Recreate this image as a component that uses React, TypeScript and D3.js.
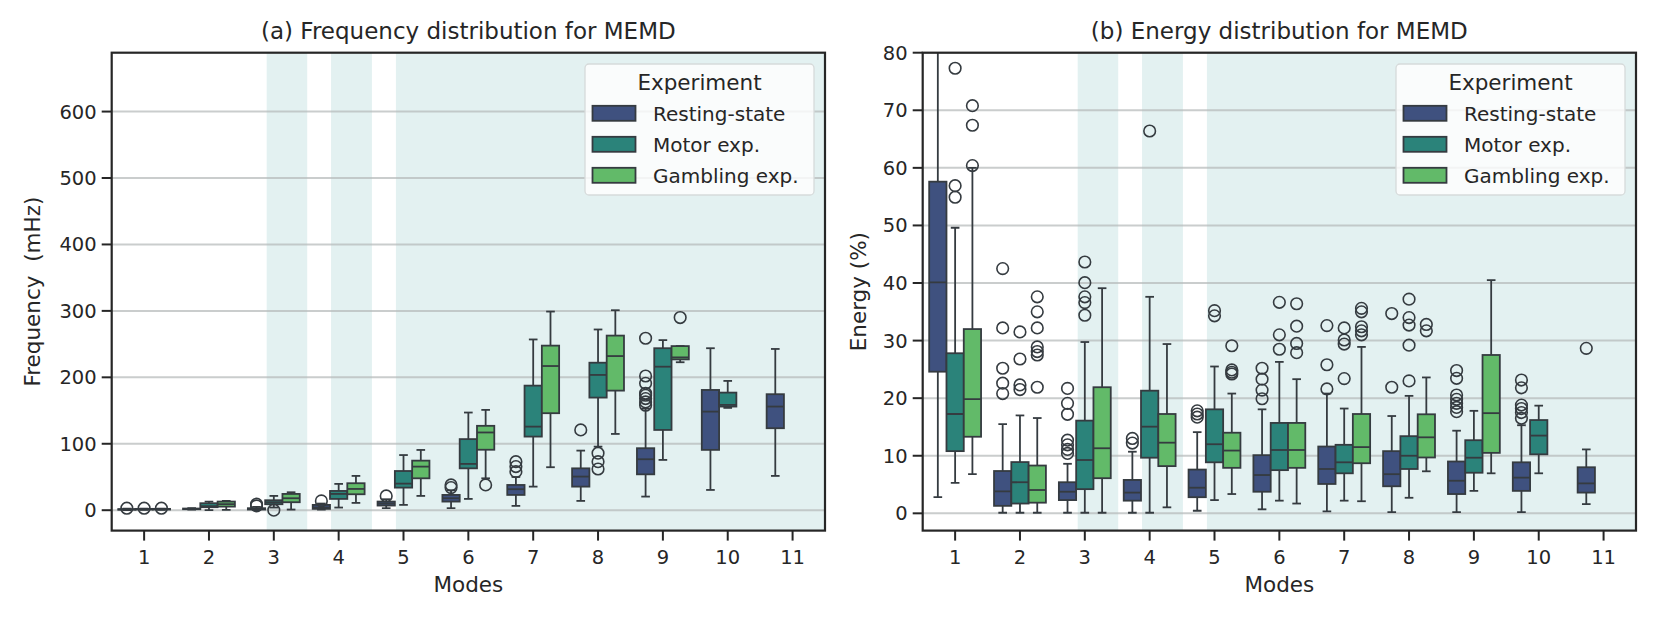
import { useEffect, useRef } from "react";
import * as d3 from "d3";

// box stats per mode: [whiskerLo, q1, median, q3, whiskerHi, outliers]
type Box = [number, number, number, number, number, number[]] | null;

const MODES = [1, 2, 3, 4, 5, 6, 7, 8, 9, 10, 11];
const EXPERIMENTS = ["Resting-state", "Motor exp.", "Gambling exp."];
const COLORS = ["#3f517f", "#2b837a", "#62ba69"];

const freqResting: Box[] = [
  [0.3, 0.8, 1.2, 1.6, 2.2, [3]],
  [1, 1.5, 2, 2.5, 3, []],
  [0.3, 1, 2, 3, 5, [6.5, 9]],
  [1, 2, 4, 8, 10, [14]],
  [3, 7, 10, 13, 16.5, [21.5]],
  [3, 13, 18, 23, 30, [34, 38]],
  [6.5, 23, 31.6, 38, 50, [58, 65.7, 73]],
  [14, 35.5, 50.6, 63, 89.7, [120.8]],
  [20.5, 54, 76.7, 93.3, 153, [158, 163, 168, 173, 176, 191, 202, 258.8]],
  [30.5, 90.8, 148.4, 181, 243.8, []],
  [51.6, 123.4, 156, 174.6, 242.7, []],
];
const freqMotor: Box[] = [
  [0.5, 1, 1.5, 2, 2.5, [3]],
  [0, 4.5, 6, 10.5, 13, []],
  [4, 9, 12, 15, 21.5, [0]],
  [4, 17, 24.5, 29, 39.6, []],
  [8, 34, 40, 59, 83, []],
  [17, 63, 69.7, 107, 147, []],
  [35.5, 110.8, 125.8, 187.5, 257, []],
  [95.7, 169.5, 203.6, 222, 272, [62, 73, 85.8]],
  [75.7, 120.8, 216, 243.8, 256, []],
  [154, 156, 158.5, 177, 194.6, []],
  null,
];
const freqGambling: Box[] = [
  [0.5, 1, 1.5, 2, 2.5, [3]],
  [0.5, 5.4, 9, 13, 14, []],
  [1, 12, 18, 24.5, 27, []],
  [11, 24, 32, 40.6, 51.6, []],
  [21.5, 48, 65.6, 74.6, 90.7, []],
  [48, 91, 117, 127, 151, [38]],
  [64.7, 146, 217, 247.7, 299, []],
  [114.8, 180, 232, 262.8, 301, []],
  [222.7, 227, 230, 247, 247, [290]],
  null,
  null,
];

const energyResting: Box[] = [
  [2.8, 24.6, 40.1, 57.6, 97, []],
  [0.1, 1.3, 3.8, 7.35, 15.5, [20.8, 22.6, 25.2, 32.2, 42.5]],
  [0.1, 2.3, 3.75, 5.4, 8.6, [10.4, 11.1, 11.9, 12.7, 17.2, 19.1, 21.7]],
  [0.1, 2.2, 3.6, 5.8, 10.7, [12.2, 13]],
  [0.45, 2.8, 4.45, 7.6, 14.1, [16.7, 17.25, 17.8]],
  [0.7, 3.75, 6.65, 10.1, 18.06, [19.9, 21.4, 23.3, 25.2]],
  [0.35, 5.1, 7.7, 11.6, 20.8, [21.6, 25.8, 32.6]],
  [0.2, 4.7, 6.8, 10.8, 16.9, [21.9, 34.7]],
  [0.2, 3.35, 5.66, 9, 14.35, [17.65, 18.4, 19.1, 19.8, 20.55, 23.45, 24.8]],
  [0.2, 3.9, 6.2, 8.86, 15.3, [16.5, 17.5, 18.2, 18.8, 21.8, 23.15]],
  [1.6, 3.6, 5.2, 8.0, 11.1, [28.65]],
];
const energyMotor: Box[] = [
  [5.3, 10.8, 17.25, 27.8, 49.6, [54.9, 56.9, 77.3]],
  [0.1, 1.7, 5.4, 8.9, 17, [21.5, 22.3, 26.8, 31.5]],
  [0.1, 4.2, 9.26, 16.1, 29.75, [34.4, 36.6, 37.6, 40.06, 43.65]],
  [0.1, 9.66, 15.05, 21.3, 37.6, [66.4]],
  [2.3, 8.86, 12, 18.06, 25.5, [34.3, 35.2]],
  [2.2, 7.5, 11, 15.7, 26.3, [28.5, 31, 36.65]],
  [2.2, 6.95, 8.86, 11.9, 18.2, [23.4, 29.4, 30.1, 32.2]],
  [2.7, 7.7, 10, 13.4, 20.4, [23, 29.2, 32.7, 34, 37.2]],
  [3.9, 7.05, 9.66, 12.7, 17.8, []],
  [6.95, 10.25, 13.5, 16.2, 18.7, []],
  null,
];
const energyGambling: Box[] = [
  [6.8, 13.3, 19.85, 32, 60, [60.4, 67.4, 70.8]],
  [0.1, 1.85, 4.05, 8.3, 16.55, [21.9, 27.5, 28.1, 28.9, 32.2, 35, 37.6]],
  [0.1, 6.1, 11.3, 21.9, 39.1, []],
  [1.04, 8.2, 12.27, 17.25, 29.4, []],
  [3.35, 7.9, 10.9, 14, 20.8, [24.2, 24.5, 24.9, 29.1]],
  [1.7, 7.9, 11, 15.7, 23.3, [27.9, 29.5, 32.5, 36.4]],
  [2.1, 8.7, 11.5, 17.25, 28.9, [31, 31.7, 32.4, 35, 35.6]],
  [7.3, 9.7, 13.2, 17.2, 23.6, [31.7, 32.8]],
  [6.95, 10.5, 17.4, 27.5, 40.5, []],
  null,
  null,
];

// shaded mode ranges (x in mode units)
const SHADE_SPANS: [number, number][] = [
  [2.89, 3.515],
  [3.883, 4.513],
  [4.883, 11.6],
];

const FREQ_TICKS = [0, 100, 200, 300, 400, 500, 600];
const ENERGY_TICKS = [0, 10, 20, 30, 40, 50, 60, 70, 80];

const W = 1661;
const H = 623;
const FONT = "DejaVu Sans, sans-serif";
const EDGE = "#353b40";

type Panel = {
  id: string;
  title: string;
  yLabel: string;
  left: number;
  right: number;
  yDomain: [number, number];
  ticks: number[];
  series: Box[][];
  yLabelX: number;
};

export default function App() {
  const ref = useRef<SVGSVGElement | null>(null);

  useEffect(() => {
    const svg = d3.select(ref.current);
    svg.selectAll("*").remove();

    const top = 52.7;
    const bottom = 530.6;

    const panels: Panel[] = [
      {
        id: "a",
        title: "(a) Frequency distribution for MEMD",
        yLabel: "Frequency  (mHz)",
        left: 111.7,
        right: 825,
        yDomain: [-30.7, 688.6],
        ticks: FREQ_TICKS,
        series: [freqResting, freqMotor, freqGambling],
        yLabelX: 40,
      },
      {
        id: "b",
        title: "(b) Energy distribution for MEMD",
        yLabel: "Energy (%)",
        left: 922.7,
        right: 1636,
        yDomain: [-3, 80],
        ticks: ENERGY_TICKS,
        series: [energyResting, energyMotor, energyGambling],
        yLabelX: 866,
      },
    ];

    panels.forEach((p) => {
      const x = d3.scaleLinear().domain([0.5, 11.5]).range([p.left, p.right]);
      const y = d3.scaleLinear().domain(p.yDomain).range([bottom, top]);
      const unit = x(2) - x(1);
      const boxW = unit * 0.8 / 3;

      const clipId = `clip-${p.id}`;
      svg
        .append("clipPath")
        .attr("id", clipId)
        .append("rect")
        .attr("x", p.left)
        .attr("y", top)
        .attr("width", p.right - p.left)
        .attr("height", bottom - top);

      const g = svg.append("g").attr("clip-path", `url(#${clipId})`);

      // shaded spans
      SHADE_SPANS.forEach(([a, b]) => {
        g.append("rect")
          .attr("x", x(a))
          .attr("y", top)
          .attr("width", x(Math.min(b, 11.5)) - x(a))
          .attr("height", bottom - top)
          .attr("fill", "#e3f1f1");
      });

      // gridlines
      g.selectAll(null)
        .data(p.ticks)
        .enter()
        .append("line")
        .attr("x1", p.left)
        .attr("x2", p.right)
        .attr("y1", (d) => y(d))
        .attr("y2", (d) => y(d))
        .attr("stroke", "#b4b8b8")
        .attr("stroke-opacity", 0.7)
        .attr("stroke-width", 2);

      // boxes
      p.series.forEach((ser, si) => {
        ser.forEach((b, mi) => {
          if (!b) return;
          const [lo, q1, med, q3, hi, out] = b;
          const cx = x(MODES[mi]) + (si - 1) * boxW;
          const bg = g.append("g");
          const capW = boxW * 0.5;
          bg.append("line")
            .attr("x1", cx).attr("x2", cx)
            .attr("y1", y(q3)).attr("y2", y(hi))
            .attr("stroke", EDGE).attr("stroke-width", 1.8);
          bg.append("line")
            .attr("x1", cx).attr("x2", cx)
            .attr("y1", y(q1)).attr("y2", y(lo))
            .attr("stroke", EDGE).attr("stroke-width", 1.8);
          [lo, hi].forEach((v) => {
            bg.append("line")
              .attr("x1", cx - capW / 2).attr("x2", cx + capW / 2)
              .attr("y1", y(v)).attr("y2", y(v))
              .attr("stroke", EDGE).attr("stroke-width", 1.8);
          });
          bg.append("rect")
            .attr("x", cx - boxW / 2)
            .attr("width", boxW)
            .attr("y", y(q3))
            .attr("height", Math.max(0.5, y(q1) - y(q3)))
            .attr("fill", COLORS[si])
            .attr("stroke", EDGE)
            .attr("stroke-width", 1.8);
          bg.append("line")
            .attr("x1", cx - boxW / 2).attr("x2", cx + boxW / 2)
            .attr("y1", y(med)).attr("y2", y(med))
            .attr("stroke", EDGE).attr("stroke-width", 1.8);
          bg.selectAll(null)
            .data(out)
            .enter()
            .append("circle")
            .attr("cx", cx)
            .attr("cy", (d) => y(d))
            .attr("r", 5.8)
            .attr("fill", "none")
            .attr("stroke", EDGE)
            .attr("stroke-width", 1.6);
        });
      });

      // frame
      svg.append("rect")
        .attr("x", p.left)
        .attr("y", top)
        .attr("width", p.right - p.left)
        .attr("height", bottom - top)
        .attr("fill", "none")
        .attr("stroke", "#262626")
        .attr("stroke-width", 2.2);

      // y axis
      const ya = svg.append("g").attr("font-family", FONT);
      p.ticks.forEach((t) => {
        ya.append("line")
          .attr("x1", p.left - 10).attr("x2", p.left)
          .attr("y1", y(t)).attr("y2", y(t))
          .attr("stroke", "#262626").attr("stroke-width", 2);
        ya.append("text")
          .attr("x", p.left - 15)
          .attr("y", y(t))
          .attr("dy", "0.36em")
          .attr("text-anchor", "end")
          .attr("font-size", 19.5)
          .attr("fill", "#262626")
          .text(t);
      });

      // x axis
      const xa = svg.append("g").attr("font-family", FONT);
      MODES.forEach((m) => {
        xa.append("line")
          .attr("x1", x(m)).attr("x2", x(m))
          .attr("y1", bottom).attr("y2", bottom + 10)
          .attr("stroke", "#262626").attr("stroke-width", 2);
        xa.append("text")
          .attr("x", x(m))
          .attr("y", bottom + 33)
          .attr("text-anchor", "middle")
          .attr("font-size", 19.5)
          .attr("fill", "#262626")
          .text(m);
      });

      svg.append("text")
        .attr("x", (p.left + p.right) / 2)
        .attr("y", 592)
        .attr("text-anchor", "middle")
        .attr("font-family", FONT)
        .attr("font-size", 21.5)
        .attr("fill", "#262626")
        .text("Modes");

      svg.append("text")
        .attr("transform", `translate(${p.yLabelX},${(top + bottom) / 2}) rotate(-90)`)
        .attr("text-anchor", "middle")
        .attr("font-family", FONT)
        .attr("font-size", 21.5)
        .attr("fill", "#262626")
        .style("white-space", "pre")
        .text(p.yLabel);

      svg.append("text")
        .attr("x", (p.left + p.right) / 2)
        .attr("y", 39)
        .attr("text-anchor", "middle")
        .attr("font-family", FONT)
        .attr("font-size", 23)
        .attr("fill", "#262626")
        .text(p.title);

      // legend
      const lx = p.right - 240;
      const ly = 64;
      const lg = svg.append("g").attr("font-family", FONT);
      lg.append("rect")
        .attr("x", lx)
        .attr("y", ly)
        .attr("width", 229)
        .attr("height", 131)
        .attr("rx", 4)
        .attr("fill", "#ffffff")
        .attr("fill-opacity", 0.8)
        .attr("stroke", "#d6dada")
        .attr("stroke-width", 1.3);
      lg.append("text")
        .attr("x", lx + 114.5)
        .attr("y", ly + 26)
        .attr("text-anchor", "middle")
        .attr("font-size", 21.5)
        .attr("fill", "#262626")
        .text("Experiment");
      EXPERIMENTS.forEach((name, i) => {
        const ry = ly + 49.3 + i * 31;
        lg.append("rect")
          .attr("x", lx + 7.5)
          .attr("y", ry - 7.5)
          .attr("width", 43)
          .attr("height", 15)
          .attr("fill", COLORS[i])
          .attr("stroke", EDGE)
          .attr("stroke-width", 1.8);
        lg.append("text")
          .attr("x", lx + 68)
          .attr("y", ry + 7.5)
          .attr("font-size", 20)
          .attr("fill", "#262626")
          .text(name);
      });
    });
  }, []);

  return (
    <svg
      ref={ref}
      width={W}
      height={H}
      style={{ position: "absolute", left: 0, top: 0, background: "#fff" }}
    />
  );
}
